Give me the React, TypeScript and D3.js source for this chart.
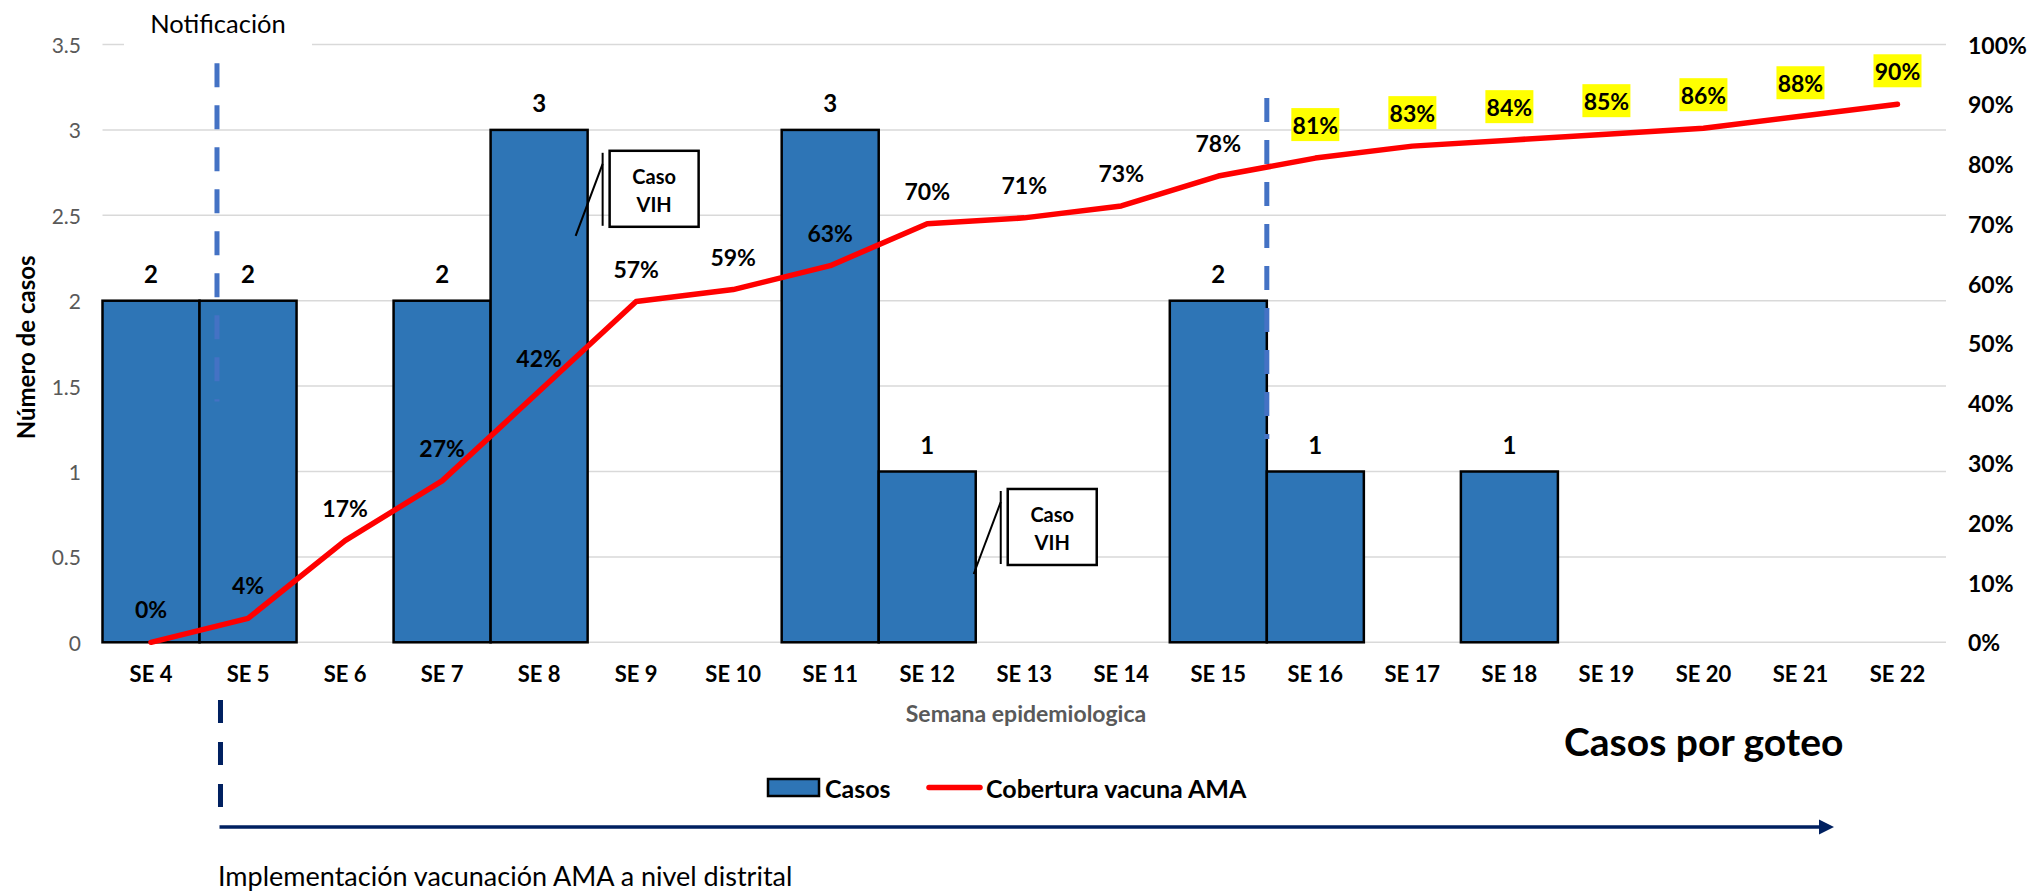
import React from 'react';
import * as d3 from 'd3';

const weeks = ['SE 4', 'SE 5', 'SE 6', 'SE 7', 'SE 8', 'SE 9', 'SE 10', 'SE 11', 'SE 12', 'SE 13', 'SE 14', 'SE 15', 'SE 16', 'SE 17', 'SE 18', 'SE 19', 'SE 20', 'SE 21', 'SE 22'];
const cases = [2, 2, 0, 2, 3, 0, 0, 3, 1, 0, 0, 2, 1, 0, 1, 0, 0, 0, 0];
const coverage = [0, 4, 17, 27, 42, 57, 59, 63, 70, 71, 73, 78, 81, 83, 84, 85, 86, 88, 90];
const highlightedWeeks = ['SE 16', 'SE 17', 'SE 18', 'SE 19', 'SE 20', 'SE 21', 'SE 22'];
const leftTicks = [0, 0.5, 1, 1.5, 2, 2.5, 3, 3.5];
const rightTicks = [0, 10, 20, 30, 40, 50, 60, 70, 80, 90, 100];
const vihCallouts = [{ week: 'SE 8', value: 2.38 }, { week: 'SE 12', value: 0.4 }];

const FONT = 'Lato, "Open Sans", sans-serif';

export default function App() {
  const W = 2029, H = 893;
  const x = d3.scaleBand<string>().domain(weeks).range([102.5, 1946]).padding(0);
  const y = d3.scaleLinear().domain([0, 3.5]).range([642.3, 44.5]);
  const yR = d3.scaleLinear().domain([0, 100]).range([642.3, 44.5]);
  const bw = x.bandwidth();
  const cx = (w: string) => (x(w) as number) + bw / 2;

  const line = d3.line<number>()
    .x((_, i) => cx(weeks[i]))
    .y((d) => yR(d));

  const notifX = (x('SE 5') as number) + 0.18 * bw;
  const se16X = x('SE 16') as number;
  const implX = notifX + 3.5;

  return (
    <svg width={W} height={H} style={{ position: 'absolute', left: 0, top: 0, background: '#fff' }} fontFamily={FONT}>
      {/* gridlines */}
      {leftTicks.map((t) => (
        <line key={'g' + t} x1={102.5} x2={1946} y1={y(t)} y2={y(t)} stroke="#D9D9D9" strokeWidth={1.5} />
      ))}
      {/* white background of Notificación text box */}
      <rect x={124} y={4} width={188} height={46} fill="#fff" />
      <text x={218} y={23} textAnchor="middle" dominantBaseline="central" fontSize={25.5} fill="#000">Notificación</text>

      {/* left axis labels */}
      {leftTicks.map((t) => (
        <text key={'l' + t} x={81} y={y(t)} textAnchor="end" dominantBaseline="central" fontSize={21} fill="#595959">{t}</text>
      ))}
      {/* right axis labels */}
      {rightTicks.map((t) => (
        <text key={'r' + t} x={1968} y={yR(t)} textAnchor="start" dominantBaseline="central" fontSize={23} fontWeight="bold" fill="#000">{t + '%'}</text>
      ))}

      {/* bars */}
      {weeks.map((w, i) => cases[i] > 0 ? (
        <rect key={'b' + w} x={x(w)} y={y(cases[i])} width={bw} height={y(0) - y(cases[i])} fill="#2E75B6" stroke="#000" strokeWidth={2.5} />
      ) : null)}
      {weeks.map((w, i) => cases[i] > 0 ? (
        <text key={'bl' + w} x={cx(w)} y={y(cases[i]) - 27} textAnchor="middle" dominantBaseline="central" fontSize={24} fontWeight="bold" fill="#000">{cases[i]}</text>
      ) : null)}

      {/* dashed notification lines */}
      <line x1={notifX} x2={notifX} y1={y(3.39)} y2={y(1.41)} stroke="#4472C4" strokeWidth={5} strokeDasharray="24 18" />
      <line x1={se16X} x2={se16X} y1={y(3.187)} y2={y(1.19)} stroke="#4472C4" strokeWidth={5} strokeDasharray="24 18" />

      {/* coverage line */}
      <path d={line(coverage) as string} fill="none" stroke="#FF0000" strokeWidth={5.5} strokeLinejoin="round" strokeLinecap="round" />
      {weeks.map((w, i) => {
        const hl = highlightedWeeks.includes(w);
        const ly = yR(coverage[i]) - 33;
        return (
          <g key={'cl' + w}>
            {hl && <rect x={cx(w) - 24} y={ly - 17} width={48} height={33} fill="#FFFF00" />}
            <text x={cx(w)} y={ly} textAnchor="middle" dominantBaseline="central" fontSize={23} fontWeight="bold" fill="#000">{coverage[i] + '%'}</text>
          </g>
        );
      })}

      {/* VIH callouts */}
      {vihCallouts.map((c) => {
        const ex = (x(c.week) as number) + bw - 12 + (c.week === 'SE 12' ? 10 : 0);
        const ey = y(c.value);
        return (
          <g key={'v' + c.week}>
            <line x1={ex + 27} x2={ex} y1={ey - 72} y2={ey} stroke="#000" strokeWidth={2} />
            <line x1={ex + 27} x2={ex + 27} y1={ey - 83} y2={ey - 10} stroke="#000" strokeWidth={2} />
            <rect x={ex + 34} y={ey - 85} width={89} height={76} fill="#fff" stroke="#000" strokeWidth={2.5} />
            <text x={ex + 78.5} y={ey - 60} textAnchor="middle" dominantBaseline="central" fontSize={20} fontWeight="bold" fill="#000">Caso</text>
            <text x={ex + 78.5} y={ey - 32} textAnchor="middle" dominantBaseline="central" fontSize={20} fontWeight="bold" fill="#000">VIH</text>
          </g>
        );
      })}

      {/* x axis labels */}
      {weeks.map((w) => (
        <text key={'x' + w} x={cx(w)} y={673} textAnchor="middle" dominantBaseline="central" fontSize={22} fontWeight="bold" fill="#000">{w}</text>
      ))}
      <text x={1026} y={713} textAnchor="middle" dominantBaseline="central" fontSize={23} fontWeight="bold" fill="#595959">Semana epidemiologica</text>

      {/* y axis title */}
      <text transform={`translate(25,${(y(0) + y(3.5)) / 2 + 4}) rotate(-90)`} textAnchor="middle" dominantBaseline="central" fontSize={24} fontWeight="bold" fill="#000">Número de casos</text>

      {/* Casos por goteo */}
      <text x={1564} y={741} textAnchor="start" dominantBaseline="central" fontSize={39} fontWeight="bold" fill="#000">Casos por goteo</text>

      {/* legend */}
      <rect x={768} y={779} width={51} height={17} fill="#2E75B6" stroke="#000" strokeWidth={2.5} />
      <text x={825} y={787.5} dominantBaseline="central" fontSize={25} fontWeight="bold" fill="#000">Casos</text>
      <line x1={929} x2={980} y1={787.5} y2={787.5} stroke="#FF0000" strokeWidth={5.5} strokeLinecap="round" />
      <text x={986} y={787.5} dominantBaseline="central" fontSize={25} fontWeight="bold" fill="#000">Cobertura vacuna AMA</text>

      {/* implementation annotation */}
      <line x1={implX} x2={implX} y1={700} y2={807} stroke="#002060" strokeWidth={5} strokeDasharray="23 19" />
      <line x1={implX - 1} x2={1821} y1={827} y2={827} stroke="#002060" strokeWidth={3.5} />
      <path d="M1819,819.5 L1834,827 L1819,834.5 Z" fill="#002060" />
      <text x={218} y={875} dominantBaseline="central" fontSize={27} fill="#000">Implementación vacunación AMA a nivel distrital</text>
    </svg>
  );
}
